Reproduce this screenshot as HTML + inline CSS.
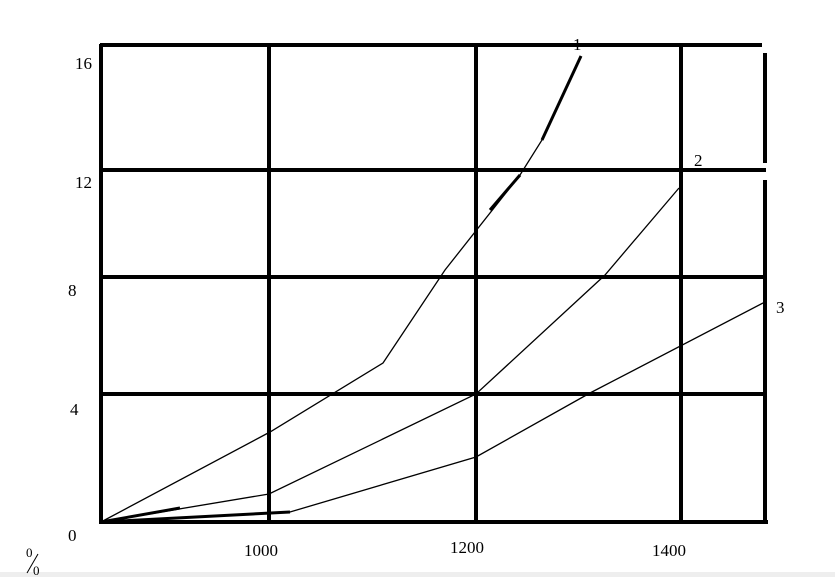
<!DOCTYPE html>
<html><head><style>
html,body{margin:0;padding:0;background:#fff;width:835px;height:577px;overflow:hidden}
svg text{font-family:"Liberation Serif",serif;font-size:17px;fill:#000}
</style></head><body>
<svg width="835" height="577" viewBox="0 0 835 577" xmlns="http://www.w3.org/2000/svg">
<rect x="0" y="572" width="835" height="5" fill="#eeeeee"/>
<g stroke="#000" stroke-width="4" fill="none">
<line x1="100" y1="45" x2="762" y2="45"/>
<line x1="101" y1="170" x2="766" y2="170"/>
<line x1="99" y1="277" x2="765" y2="277"/>
<line x1="101" y1="394" x2="765" y2="394"/>
<line x1="99" y1="522" x2="768" y2="522"/>
<line x1="101" y1="44" x2="101" y2="524"/>
<line x1="269" y1="46" x2="269" y2="524"/>
<line x1="476" y1="46" x2="476" y2="524"/>
<line x1="681" y1="46" x2="681" y2="524"/>
<line x1="765" y1="53" x2="765" y2="163"/>
<line x1="765" y1="180" x2="765" y2="524"/>
</g>
<g stroke="#000" stroke-width="1.3" fill="none">
<polyline points="101,522 270,432 383,363 445,270 520,175 542,140 581,56"/>
<polyline points="101,522 269,494 476,394 605,275 679,188"/>
<polyline points="101,522 290,512 476,457 590,393 765,302"/>
</g>
<g stroke="#000" stroke-width="3" fill="none">
<line x1="542" y1="140" x2="581" y2="56"/>
<line x1="490" y1="210" x2="520" y2="175"/>
<line x1="101" y1="522" x2="290" y2="512"/>
<line x1="101" y1="522" x2="180" y2="508"/>
</g>
<text x="573" y="50">1</text>
<text x="694" y="166">2</text>
<text x="776" y="313">3</text>
<text x="75" y="69">16</text>
<text x="75" y="188">12</text>
<text x="68" y="296">8</text>
<text x="70" y="415">4</text>
<text x="68" y="541">0</text>
<text x="244" y="556">1000</text>
<text x="450" y="553">1200</text>
<text x="652" y="556">1400</text>
<text x="26" y="557" style="font-size:13px">0</text>
<line x1="27" y1="573" x2="38" y2="554" stroke="#000" stroke-width="1"/>
<text x="33" y="575" style="font-size:13px">0</text>
</svg>
</body></html>
